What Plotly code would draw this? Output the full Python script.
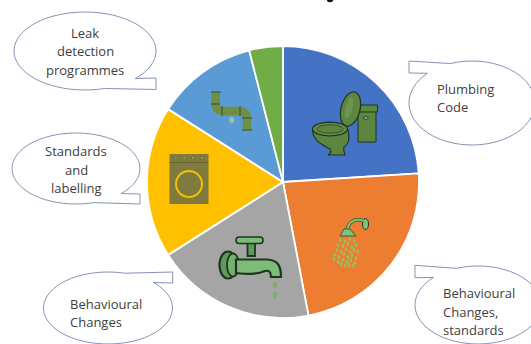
import numpy as np
import plotly.graph_objects as go

W, H = 531, 344

# Pie data, clockwise from twelve o'clock
categories = ["Plumbing Code", "Behavioural Changes, standards", "Behavioural Changes",
              "Standards and labelling", "Leak detection programmes", "Other"]
shares = [24, 23, 19, 18, 12, 4]
colors = ["#4472C4", "#ED7D31", "#A5A5A5", "#FFC000", "#5B9BD5", "#70AD47"]

TEXT = "#404040"
EDGE = "#8492B8"
DARK = "#1E361E"
OLIVE = "#5C8540"
MINT = "#7DBB78"


def px(x, y):
    """Page pixel (origin top-left) to paper coordinates."""
    return f"{x / W:.5f},{1 - y / H:.5f}"


def path(cmds):
    """Build an SVG path from (letter, x, y, x, y, ...) tuples given in pixels."""
    out = []
    for c in cmds:
        if c[0] == "Z":
            out.append("Z")
            continue
        pts = c[1:]
        out.append(c[0] + " ".join(px(pts[i], pts[i + 1]) for i in range(0, len(pts), 2)))
    return " ".join(out)


def shape(cmds, fill="rgba(0,0,0,0)", line=None, width=1, **kw):
    return dict(type="path", xref="paper", yref="paper", path=path(cmds), fillcolor=fill,
                line=dict(color=line or "rgba(0,0,0,0)", width=width if line else 0),
                layer="above", **kw)


def ellipse(cx, cy, rx, ry, fill="rgba(0,0,0,0)", line=None, width=1, tilt=0):
    t = np.radians(np.arange(0, 360, 10))
    a = np.radians(tilt)
    xs = cx + rx * np.cos(t) * np.cos(a) - ry * np.sin(t) * np.sin(a)
    ys = cy + rx * np.cos(t) * np.sin(a) + ry * np.sin(t) * np.cos(a)
    cmds = [("M", xs[0], ys[0])] + [("L", x, y) for x, y in zip(xs[1:], ys[1:])] + [("Z",)]
    return shape(cmds, fill, line, width)


def rect(x0, y0, x1, y1, fill, line=None, width=1):
    return shape([("M", x0, y0), ("L", x1, y0), ("L", x1, y1), ("L", x0, y1), ("Z",)], fill, line, width)


def callout(cx, cy, rx, ry, start, end, tail):
    """Speech bubble: an elliptical arc closed by a squared-off tail."""
    t = np.radians(np.linspace(start, end, 60))
    xs, ys = cx + rx * np.cos(t), cy + ry * np.sin(t)
    cmds = [("M", xs[0], ys[0])] + [("L", x, y) for x, y in zip(xs[1:], ys[1:])]
    cmds += [("L", x, y) for x, y in tail] + [("Z",)]
    return shape(cmds, "white", EDGE, 1)


shapes = [
    callout(85, 51, 71, 39, 74, 405, [(156, 78), (156, 89.5)]),
    callout(76, 168.5, 64, 35.5, 74, 405, [(140, 194), (140, 204)]),
    callout(108, 308, 64.5, 36, -45, 285, [(172.7, 272), (172.7, 283)]),
    callout(472, 103, 63, 42, 250, 585, [(409, 73), (409, 61)]),
    callout(478, 305, 63, 39, 250, 585, [(415, 277.7), (415, 265.3)]),
]

# Descender of the heading cut off by the page edge
shapes.append(ellipse(330, 0, 3.2, 2.2, "#111111"))

# Toilet
shapes += [
    rect(358, 108, 376, 142, OLIVE, DARK, 1),
    rect(358, 105, 377.5, 112, OLIVE, DARK, 1),
    ellipse(350.5, 109, 9.5, 17.5, OLIVE, DARK, 1.2, tilt=14),
    ellipse(349, 108, 3.5, 11, "#6C9650", tilt=14),
    ellipse(366, 118, 2, 1.5, "#8FAE7C", DARK, 1),
    shape([("M", 312.5, 130), ("C", 313, 142, 325, 146, 330, 149), ("C", 332, 152, 330, 154, 328, 155),
           ("L", 345, 155), ("C", 344, 152, 343, 150, 344, 147), ("C", 349, 144, 350, 137, 348, 130), ("Z",)],
          OLIVE, DARK, 1.2),
    ellipse(330, 129, 17.5, 6.8, "#648F48", DARK, 1.2),
    ellipse(330, 129, 13, 4.2, "#5C8540", DARK, 0.7),
]

# Washing machine
shapes.append(rect(169.5, 154, 208.5, 204, "#7F7B3F"))
shapes.append(shape([("M", 169.5, 162.5), ("L", 208.5, 162.5)], line="#6A662F", width=1))
for x_dot in (176, 184.3, 192.7, 202):
    shapes.append(ellipse(x_dot, 158, 1.5, 1.5, "#A19B55", "#5F5B2A", 0.6))
shapes.append(ellipse(189, 184, 13, 13, line="#F2C200", width=2))

# Tap
shapes += [
    ellipse(228, 265, 8.5, 13.5, "#5E9A5C", DARK, 2.2),
    ellipse(233, 265, 6, 11.5, "#74B070", DARK, 1.8),
    rect(247.5, 243, 255, 256, "#5E9A5C", DARK, 1.8),
    shape([("M", 236, 259.5), ("L", 268, 259.5), ("C", 278, 260.5, 281, 266, 281, 277), ("L", 271, 277),
           ("C", 271, 272, 269, 270, 265, 271), ("C", 256, 275, 246, 274, 236, 273), ("Z",)],
          MINT, DARK, 2.2),
    shape([("M", 239, 237), ("L", 260, 237), ("C", 264, 237, 264, 243.5, 260, 243.5), ("L", 239, 243.5),
           ("C", 235, 243.5, 235, 237, 239, 237), ("Z",)], MINT, DARK, 1.6),
    ellipse(275, 285, 2, 3.5, "#7DAF62"),
    ellipse(275, 295, 2, 3.5, "#7DAF62"),
]

# Shower head and spray
shapes += [
    ellipse(365.5, 224, 3, 5.5, "#7CC47A", DARK, 1),
    shape([("M", 364, 221), ("C", 355, 218, 349, 221, 347, 230)], line="#2E5E34", width=3.5),
    shape([("M", 364, 221), ("C", 355, 218, 349, 221, 347, 230)], line="#7CC47A", width=2),
    shape([("M", 344, 229), ("L", 350, 229), ("L", 356, 236), ("L", 340, 236), ("Z",)], "#7CC47A", "#2E5E34", 1),
]
spray_dots = [(340, 240), (345, 241), (350, 239), (354, 241), (338, 245), (343, 246), (348, 244),
              (352, 247), (356, 245), (337, 250), (341, 252), (346, 249), (350, 252), (354, 250),
              (358, 252), (335, 255), (339, 257), (344, 254), (348, 257), (352, 255), (356, 258),
              (334, 259), (338, 262), (343, 260), (347, 262), (351, 260), (355, 263), (341, 264),
              (345, 266), (349, 265), (353, 266)]
for dx, dy in spray_dots:
    shapes.append(ellipse(dx, dy, 1.3, 1.9, "#93C266"))

# Leaking pipe
shapes.append(shape([("M", 215.7, 92), ("L", 215.7, 104), ("Q", 215.7, 111, 223, 111), ("L", 239, 111),
                     ("Q", 247, 111, 247, 119), ("L", 247, 130)], line="#6F8F45", width=8.5))
for x0, y0, x1, y1 in [(211, 92, 221, 92), (211, 104, 220, 104), (222, 106, 222, 116),
                       (240, 106, 240, 116), (242, 118, 252, 118), (242, 130, 252, 130)]:
    shapes.append(shape([("M", x0, y0), ("L", x1, y1)], line="#3D5A33", width=1.2))
shapes.append(ellipse(231.7, 120, 2, 2.6, "#8FC08A", "#C7DDB0", 0.8))

# Bubble captions: text, x, y of the line centre, horizontal alignment
captions = [
    ("Leak", 85, 32.5, "center"), ("detection", 85, 51, "center"), ("programmes", 85, 70, "center"),
    ("Standards", 76, 150.5, "center"), ("and", 76, 169.5, "center"), ("labelling", 76, 188, "center"),
    ("Behavioural", 68.5, 303.7, "left"), ("Changes", 68.5, 322, "left"),
    ("Plumbing", 434.5, 88.5, "left"), ("Code", 434.5, 107, "left"),
    ("Behavioural", 440.5, 292.7, "left"), ("Changes,", 440.5, 312, "left"), ("standards", 440.5, 330, "left"),
]
annotations = [
    dict(text=t, x=x / W, y=1 - y / H, xref="paper", yref="paper", xanchor=a, yanchor="middle",
         showarrow=False, font=dict(family="Open Sans", size=13, color=TEXT))
    for t, x, y, a in captions
]

fig = go.Figure(go.Pie(
    labels=categories,
    values=shares,
    sort=False,
    direction="clockwise",
    rotation=0,
    textinfo="none",
    marker=dict(colors=colors, line=dict(color="white", width=1.8)),
    domain=dict(x=[147 / W, 419 / W], y=[1 - 318 / H, 1 - 46 / H]),
    showlegend=False,
))
fig.update_layout(
    width=W, height=H,
    margin=dict(l=0, r=0, t=0, b=0),
    paper_bgcolor="white",
    shapes=shapes,
    annotations=annotations,
)
fig.write_html("out.html")
